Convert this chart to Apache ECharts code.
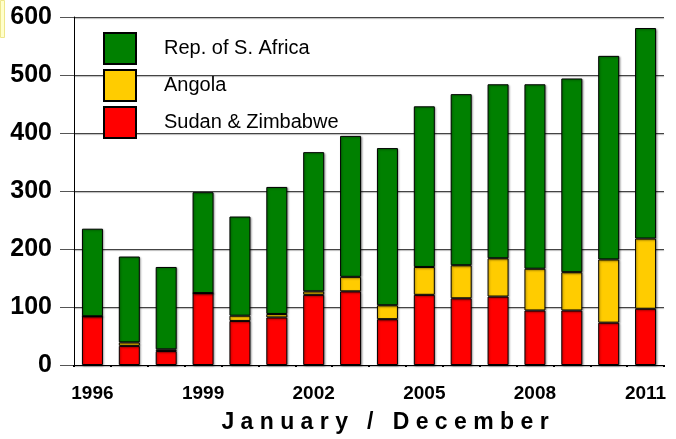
<!DOCTYPE html>
<html>
<head>
<meta charset="utf-8">
<script src="https://cdn.jsdelivr.net/npm/echarts@6/dist/echarts.min.js"></script>
<style>
  html, body { margin: 0; padding: 0; background: #fff; }
  #chart { width: 676px; height: 439px; }
</style>
</head>
<body>
<div id="chart"></div>
<script>
const years = ["1996", "1997", "1998", "1999", "2000", "2001", "2002", "2003",
  "2004", "2005", "2006", "2007", "2008", "2009", "2010", "2011"];
const sudanZimbabwe = [84, 33, 24, 124, 76, 82, 121, 127, 79, 121, 115, 118, 94, 94, 73, 97];
const angola = [0, 6, 3, 0, 9, 6, 6, 25, 24, 48, 57, 66, 72, 66, 109, 121];
const southAfrica = [151, 148, 142, 174, 171, 219, 240, 243, 271, 277, 295, 300, 318, 334, 351, 363];
const yTicks = [0, 100, 200, 300, 400, 500, 600];

const FONT = "'Liberation Sans', Arial, sans-serif";

function getEl(id) {
  const element = document.getElementById(id);
  if (!element) console.error(`[chart] Missing DOM node: #${id}`);
  return element;
}

function barSeries(name, data, color) {
  return {
    name,
    type: "bar",
    stack: "total",
    data,
    barWidth: 21,
    itemStyle: {
      color,
      borderColor: "#000",
      borderWidth: 1,
      shadowColor: "rgba(0,0,0,0.35)",
      shadowBlur: 2,
      shadowOffsetX: 1,
      shadowOffsetY: 1
    }
  };
}

const chart = echarts.init(getEl("chart"), null, { renderer: "canvas" });

chart.setOption({
  animation: false,
  backgroundColor: "#fff",
  grid: { left: 74, right: 12, top: 17, bottom: 74, containLabel: false },
  legend: {
    orient: "vertical",
    left: 98,
    top: 27,
    itemWidth: 32,
    itemHeight: 31,
    itemGap: 4,
    icon: "rect",
    data: ["Rep. of S. Africa", "Angola", "Sudan & Zimbabwe"],
    textStyle: {
      fontFamily: FONT,
      fontSize: 20,
      color: "#000",
      padding: [0, 0, 0, 23]
    }
  },
  graphic: [{
    type: "rect",
    left: 0,
    top: 0,
    shape: { width: 4, height: 37 },
    style: { fill: "#ffffcc", stroke: "#eee68a", lineWidth: 1 }
  }],
  xAxis: [{
    type: "category",
    data: years,
    axisLine: { lineStyle: { color: "#000", width: 1 } },
    axisTick: { alignWithLabel: true, length: 8, lineStyle: { color: "#444" } },
    axisLabel: {
      interval: 2,
      margin: 19,
      fontFamily: FONT,
      fontSize: 19,
      fontWeight: "bold",
      color: "#000"
    },
    name: "J a n u a r y   /   D e c e m b e r",
    nameLocation: "middle",
    nameGap: 46,
    nameTextStyle: {
      fontFamily: FONT,
      fontSize: 23,
      fontWeight: "bold",
      color: "#000",
      padding: [0, 0, 0, 32]
    }
  }, {
    // small dots between categories
    type: "category",
    data: years,
    position: "bottom",
    axisLine: { show: false },
    axisTick: { show: true, length: 2, lineStyle: { color: "#000", width: 2 } },
    axisLabel: { show: false }
  }],
  yAxis: {
    type: "value",
    min: yTicks[0],
    max: yTicks[yTicks.length - 1],
    interval: 100,
    axisLine: { show: true, lineStyle: { color: "#000", width: 1 } },
    axisTick: { show: true, length: 14, lineStyle: { color: "#555" } },
    axisLabel: {
      margin: 22,
      fontFamily: FONT,
      fontSize: 25,
      fontWeight: "bold",
      color: "#000"
    },
    splitLine: {
      show: true,
      lineStyle: {
        color: "#444",
        width: 1,
        shadowColor: "rgba(0,0,0,0.3)",
        shadowBlur: 1,
        shadowOffsetY: 1
      }
    }
  },
  series: [
    barSeries("Sudan & Zimbabwe", sudanZimbabwe, "#ff0000"),
    barSeries("Angola", angola, "#ffcc00"),
    barSeries("Rep. of S. Africa", southAfrica, "#008000")
  ]
});
</script>
</body>
</html>
